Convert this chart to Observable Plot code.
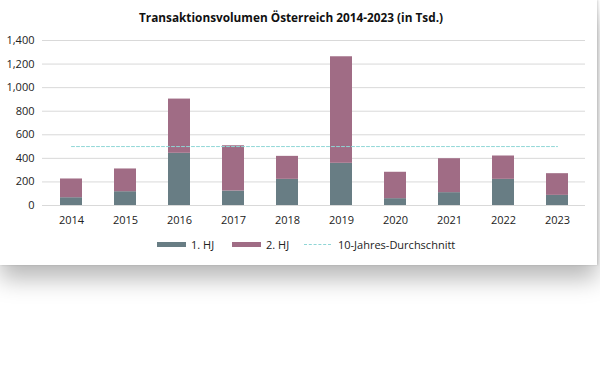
<!DOCTYPE html>
<html>
<head>
<meta charset="utf-8">
<script src="https://cdn.jsdelivr.net/npm/d3@7"></script>
<script src="https://cdn.jsdelivr.net/npm/@observablehq/plot@0.6"></script>
<style>
  html, body { margin: 0; padding: 0; background: #fff; }
  body { width: 600px; height: 392px; overflow: hidden; font-family: "Open Sans", sans-serif; }
  #card { position: absolute; left: 0; top: 0; width: 597px; height: 265px; background: #fff;
    box-shadow: 0 14px 22px rgba(0,0,0,0.28), 1px 0 2px rgba(0,0,0,0.15); }
  #title { position: absolute; left: 0; top: 9px; width: 582px; text-align: center; font-size: 11.8px; font-weight: 700; color: #111; }
  #chart { position: absolute; left: 0; top: 30px; }
  #legend { position: absolute; left: 0; top: 236px; width: 597px; height: 18px; font-size: 11px; color: #222; }
  .item { position: absolute; top: 0; display: flex; align-items: center; height: 16px; }
  .sw { width: 29px; height: 5px; margin-right: 5px; }
  .dash { width: 27px; height: 0; border-top: 1px dashed #8fd6d6; margin-right: 7px; }
</style>
</head>
<body>
<div id="card">
  <div id="title">Transaktionsvolumen Österreich 2014-2023 (in Tsd.)</div>
  <div id="chart"></div>
  <div id="legend"></div>
</div>
<script>
const years = ["2014","2015","2016","2017","2018","2019","2020","2021","2022","2023"];
const h1 = [66, 117, 443, 123, 222, 358, 58, 109, 222, 86];
const h2 = [159, 193, 460, 384, 195, 904, 224, 288, 198, 184];
const series = ["1. HJ", "2. HJ"];
const colors = ["#687d84", "#a06c85"];
const average = 500;
const avgLabel = "10-Jahres-Durchschnitt";
const yTicks = [0, 200, 400, 600, 800, 1000, 1200, 1400];

const rows = [];
years.forEach((y, i) => {
  rows.push({year: y, serie: series[0], value: h1[i]});
  rows.push({year: y, serie: series[1], value: h2[i]});
});

const fmt = d3.format(",");
const chart = Plot.plot({
  width: 597,
  height: 200,
  marginTop: 10,
  marginBottom: 25,
  marginLeft: 42,
  marginRight: 12,
  style: {fontFamily: "Open Sans, sans-serif", fontSize: "11px", color: "#222"},
  x: {domain: years, paddingInner: 0.595, paddingOuter: 0.2975, label: null},
  y: {domain: [0, 1400], ticks: yTicks, tickFormat: fmt, label: null},
  color: {domain: series, range: colors},
  marks: [
    Plot.gridY(yTicks, {stroke: "#d9d9d9", strokeOpacity: 1, strokeWidth: 1}),
    Plot.axisY({ticks: yTicks, tickFormat: fmt, tickSize: 0, tickPadding: 8, label: null}),
    Plot.axisX({tickSize: 0, tickPadding: 11, label: null}),
    Plot.barY(rows, Plot.stackY({x: "year", y: "value", fill: "serie", order: series})),
    Plot.ruleY([0], {stroke: "#d9d9d9"}),
    Plot.lineY([years[0], years[years.length-1]].map(y => ({year: y, v: average})),
      {x: "year", y: "v", stroke: "#8fd6d6", strokeWidth: 1, strokeDasharray: "3,2"})
  ]
});
document.getElementById("chart").appendChild(chart);

const legend = document.getElementById("legend");
const items = [
  {left: 157, html: `<div class="sw" style="background:${colors[0]}"></div>${series[0]}`},
  {left: 232, html: `<div class="sw" style="background:${colors[1]}"></div>${series[1]}`},
  {left: 304, html: `<div class="dash"></div>${avgLabel}`}
];
items.forEach(it => {
  const d = document.createElement("div");
  d.className = "item";
  d.style.left = it.left + "px";
  d.innerHTML = it.html;
  legend.appendChild(d);
});
</script>
</body>
</html>
